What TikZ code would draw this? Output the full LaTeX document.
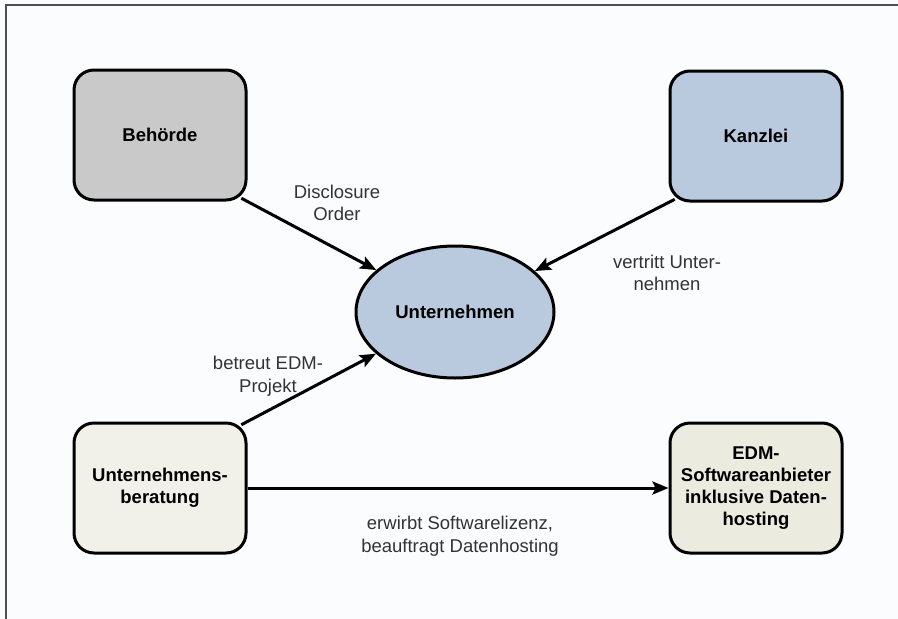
\documentclass[tikz,border=0pt]{standalone}
\usepackage{fontspec}
\setmainfont{Liberation Sans}
\usetikzlibrary{arrows.meta,shapes.geometric}
\definecolor{silver}{RGB}{201, 201, 201}
\definecolor{steel}{RGB}{185, 202, 223}
\definecolor{linen}{RGB}{241, 240, 233}
\definecolor{parchment}{RGB}{236, 235, 224}
\definecolor{slate}{RGB}{80, 80, 80}
\definecolor{paper}{RGB}{251, 252, 254}

\tikzset{
    box/.style   = {draw=black, line width=3pt, rounded corners=20pt,
                    minimum width=172pt, minimum height=130pt,
                    align=center, font=\fontsize{18.5}{22}\selectfont\bfseries},
    party/.style = {ellipse, draw=black, line width=3pt, fill=steel,
                    minimum width=198pt, minimum height=132pt,
                    font=\fontsize{18.5}{22}\selectfont\bfseries},
    conn/.style  = {line width=3pt, -{Stealth[length=16pt, width=13pt, inset=3pt]}},
    tag/.style   = {align=center, text=black!80, font=\fontsize{18.5}{22.5}\selectfont}
}

\begin{document}
\begin{tikzpicture}[x=1pt, y=-1pt]
            % Page
            \useasboundingbox (0, 0) rectangle (898, 619);
            \fill[paper]                                   (0, 0) rectangle (898, 619);
            \draw[slate, line width=2.4pt]                 (6, 619) -- (6, 5) -- (898, 5);
            % Parties
            \node[box, fill=silver]    (beh) at (160, 135) {Behörde};
            \node[box, fill=steel]     (kan) at (756, 136) {Kanzlei};
            \node[party]               (unt) at (455, 312) {Unternehmen};
            \node[box, fill=linen]     (ber) at (160, 488) {Unternehmens-\\beratung};
            \node[box, fill=parchment] (edm) at (756, 488) {EDM-\\Softwareanbieter\\inklusive Daten-\\hosting};
            % Relations
            \draw[conn, shorten <=-7pt] (beh.south east) -- (unt);
            \draw[conn, shorten <=-7pt] (kan.south west) -- (unt);
            \draw[conn, shorten <=-7pt] (ber.north east) -- (unt);
            \draw[conn]                 (ber.east)       -- (edm.west);
            % Labels
            \node[tag] (dis) at (337, 203) {Disclosure\\Order};
            \node[tag] (ver) at (667, 273) {vertritt Unter-\\nehmen};
            \node[tag] (bet) at (268, 376) {betreut EDM-\\Projekt};
            \node[tag] (erw) at (460, 536) {erwirbt Softwarelizenz,\\beauftragt Datenhosting};
\end{tikzpicture}
\end{document}
